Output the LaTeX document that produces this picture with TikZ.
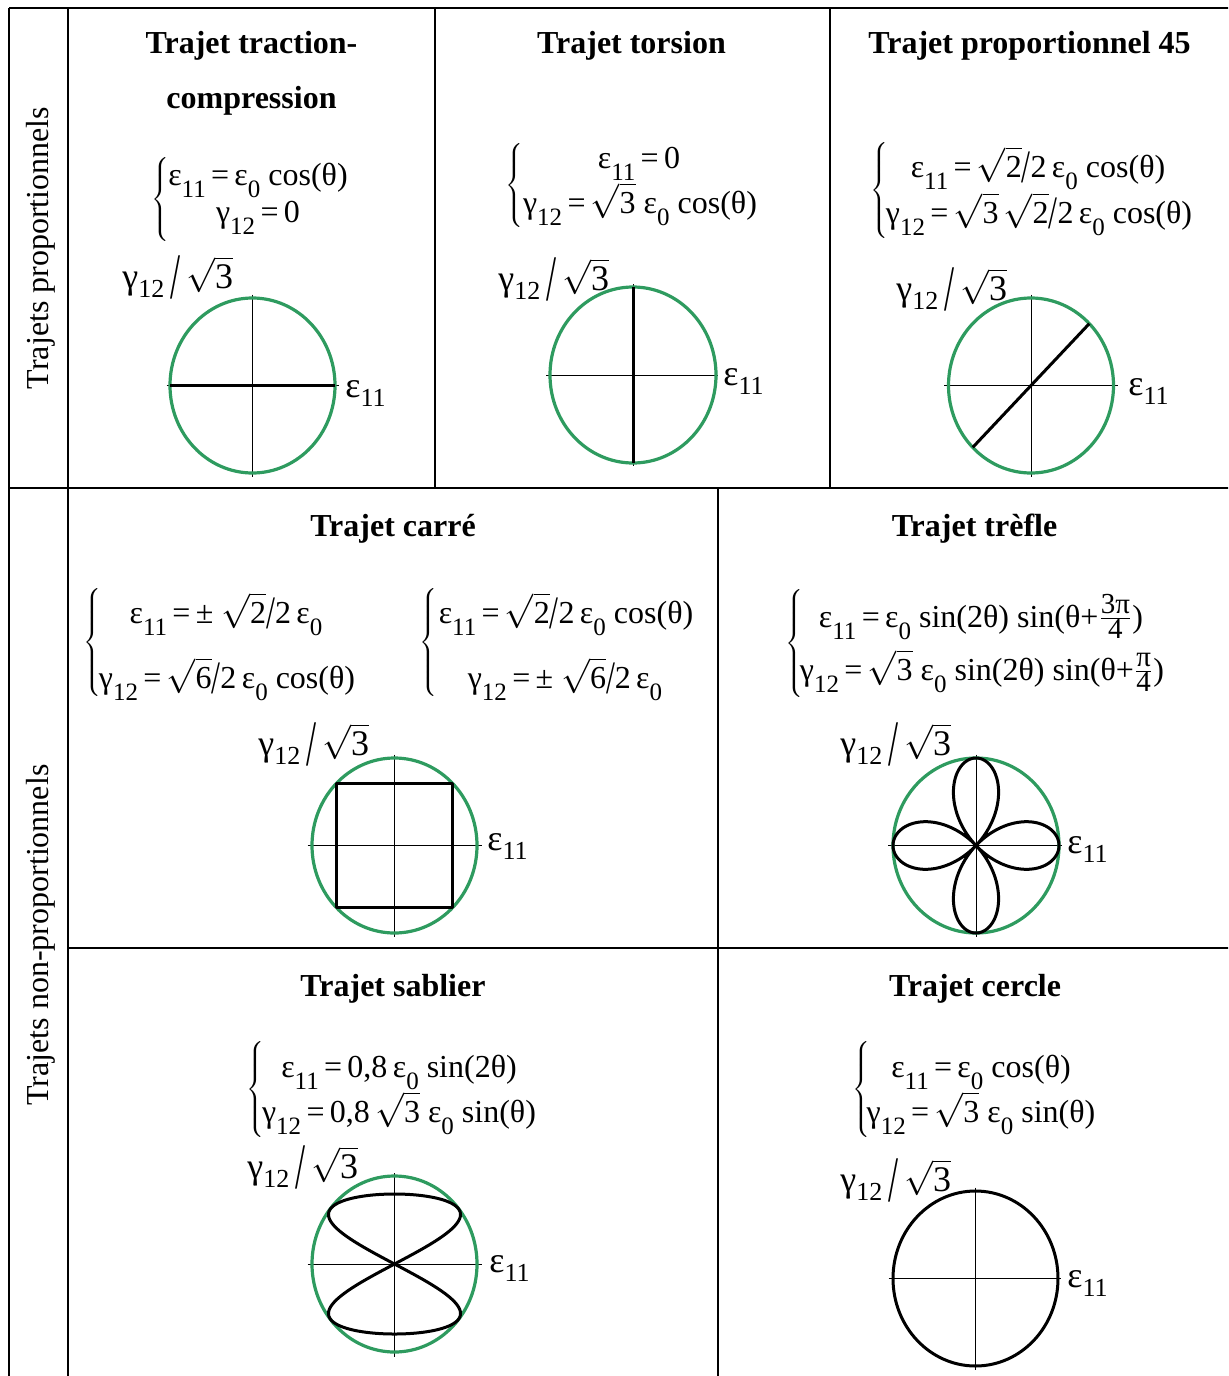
\documentclass[tikz,border=0pt]{standalone}
\usepackage{fontspec}
\setmainfont{Liberation Serif}
\definecolor{pathgreen}{RGB}{46,155,95}
\newcommand\sub[1]{\raisebox{-6pt}{\fontsize{12.5}{12.5}\selectfont #1}}
\newcommand\lsub[1]{\raisebox{-4.5pt}{\fontsize{13}{13}\selectfont #1}}
\newcommand\rt[1]{$\sqrt{\hbox{#1}}$}
\newcommand\tsl{\raisebox{-2.5pt}{\scalebox{1}[1.45]{/}}}
\newcommand\bigsl{\raisebox{-5pt}{\scalebox{1}[1.8]{/}}}
\newcommand\fr[2]{$\frac{\hbox{\fontsize{14.5}{14.5}\selectfont #1}}{\hbox{\fontsize{14.5}{14.5}\selectfont #2}}$}
\newcommand\brc[1]{$\left\{\vcenter{\hbox{\vrule height #1 depth 0pt width 0pt}}\right.$}
\tikzset{
  tablerule/.style={line width=1pt},
  axisline/.style={line width=0.5pt},
  gcirc/.style={draw=pathgreen, line width=1.6pt},
  pathcurve/.style={line width=1.5pt, line join=round},
  ttl/.style={font=\bfseries\fontsize{16}{19}\selectfont, anchor=base, inner sep=0pt},
  eqn/.style={font=\fontsize{16}{19}\selectfont, anchor=base, inner sep=0pt},
  bracenode/.style={font=\fontsize{16}{19}\selectfont, anchor=west, inner sep=0pt},
  lbl/.style={font=\fontsize{18}{20}\selectfont, anchor=base west, inner sep=0pt},
  sidelabel/.style={font=\fontsize{16}{19}\selectfont, rotate=90, anchor=base, inner sep=0pt},
}
\begin{document}
\begin{tikzpicture}[x=0.5pt,y=-0.5pt]
\useasboundingbox (0,0) rectangle (1228,1376);
\clip (0,0) rectangle (1228,1376);
% table rules
\draw[tablerule] (9,7.5) -- (1240,7.5);
\draw[tablerule] (9,7.5) -- (9,1390);
\draw[tablerule] (68,7.5) -- (68,1390);
\draw[tablerule] (9,488) -- (1240,488);
\draw[tablerule] (434.5,7.5) -- (434.5,488);
\draw[tablerule] (829.5,7.5) -- (829.5,488);
\draw[tablerule] (68,948) -- (1240,948);
\draw[tablerule] (718,488) -- (718,1390);
% side labels
\node[sidelabel] (s1) at (48.5,248) {Trajets proportionnels};
\node[sidelabel] (s2) at (48.5,935) {Trajets non-proportionnels};

% ---- cell 1: traction-compression
\node[ttl] (t1a) at (251.5,54) {Trajet traction-};
\node[ttl] (t1b) at (251.5,108) {compression};
\node[bracenode] (b1) at (151,199) {\brc{42pt}};
\node[eqn] (e1a) at (258,185) {ε\sub{11}\,=\,ε\sub{0} cos(θ)};
\node[eqn] (e1b) at (258,222) {γ\sub{12}\,=\,0};
\begin{scope}[shift={(252.5,385.5)}]
  \draw[axisline] (-86,0) -- (86,0);
  \draw[axisline] (0,-91) -- (0,91);
  \draw[gcirc] (0,0) ellipse [x radius=82.5, y radius=87.5];
  \draw[pathcurve] (-82.5,0) -- (82.5,0);
\end{scope}
\node[lbl] (g1) at (122,288) {γ\lsub{12}\,\bigsl\,\rt{3}};
\node[lbl] (x1) at (345,397) {ε\lsub{11}};

% ---- cell 2: torsion
\node[ttl] (t2) at (631.5,54) {Trajet torsion};
\node[bracenode] (b2) at (505,185) {\brc{46pt}};
\node[eqn] (e2a) at (639,168) {ε\sub{11}\,=\,0};
\node[eqn] (e2b) at (640,213) {γ\sub{12}\,=\,\rt{3} ε\sub{0} cos(θ)};
\begin{scope}[shift={(633,375)}]
  \draw[axisline] (-87,0) -- (85,0);
  \draw[axisline] (0,-91) -- (0,91);
  \draw[gcirc] (0,0) ellipse [x radius=83, y radius=88];
  \draw[pathcurve] (0,-88) -- (0,88);
\end{scope}
\node[lbl] (g2) at (498,290) {γ\lsub{12}\,\bigsl\,\rt{3}};
\node[lbl] (x2) at (723,385) {ε\lsub{11}};

% ---- cell 3: proportionnel 45
\node[ttl] (t3) at (1029.5,54) {Trajet proportionnel 45};
\node[bracenode] (b3) at (870,190) {\brc{49pt}};
\node[eqn] (e3a) at (1038,177) {ε\sub{11}\,=\,\rt{2}\tsl2\,ε\sub{0} cos(θ)};
\node[eqn] (e3b) at (1039,223) {γ\sub{12}\,=\,\rt{3}\,\rt{2}\tsl2\,ε\sub{0} cos(θ)};
\begin{scope}[shift={(1031,385.5)}]
  \draw[axisline] (-87,0) -- (87,0);
  \draw[axisline] (0,-91) -- (0,91);
  \draw[gcirc] (0,0) ellipse [x radius=82.5, y radius=87.5];
  \draw[pathcurve] (-58.3,61.9) -- (58.3,-61.9);
\end{scope}
\node[lbl] (g3) at (896,300) {γ\lsub{12}\,\bigsl\,\rt{3}};
\node[lbl] (x3) at (1128,395) {ε\lsub{11}};

% ---- cell 4: carre
\node[ttl] (t4) at (393,536) {Trajet carré};
\node[bracenode] (b4a) at (83,642) {\brc{58pt}};
\node[eqn] (e4a) at (226,623) {ε\sub{11}\,=\,± \rt{2}\tsl2\,ε\sub{0}};
\node[eqn] (e4b) at (227,688) {γ\sub{12}\,=\,\rt{6}\tsl2\,ε\sub{0} cos(θ)};
\node[bracenode] (b4b) at (419,642) {\brc{58pt}};
\node[eqn] (e4c) at (566,623) {ε\sub{11}\,=\,\rt{2}\tsl2\,ε\sub{0} cos(θ)};
\node[eqn] (e4d) at (565,688) {γ\sub{12}\,=\,± \rt{6}\tsl2\,ε\sub{0}};
\begin{scope}[shift={(394.5,845.5)}]
  \draw[axisline] (-87,0) -- (87,0);
  \draw[axisline] (0,-91) -- (0,91);
  \draw[gcirc] (0,0) ellipse [x radius=82.5, y radius=87.5];
  \draw[pathcurve] (-58.3,-61.9) rectangle (58.3,61.9);
\end{scope}
\node[lbl] (g4) at (258,755) {γ\lsub{12}\,\bigsl\,\rt{3}};
\node[lbl] (x4) at (487,850) {ε\lsub{11}};

% ---- cell 5: trefle
\node[ttl] (t5) at (974.5,536) {Trajet trèfle};
\node[bracenode] (b5) at (785,643) {\brc{57pt}};
\node[eqn] (e5a) at (981,627) {ε\sub{11}\,=\,ε\sub{0} sin(2θ) sin(θ+\fr{3π}{4})};
\node[eqn] (e5b) at (982,680) {γ\sub{12}\,=\,\rt{3} ε\sub{0} sin(2θ) sin(θ+\fr{π}{4})};
\begin{scope}[shift={(976,845.5)}]
  \draw[axisline] (-88,0) -- (86,0);
  \draw[axisline] (0,-91) -- (0,91);
  \draw[gcirc] (0,0) ellipse [x radius=83, y radius=87.5];
  \draw[pathcurve] plot[domain=0:360, samples=361, smooth]
    ({83*sin(2*\x)*sin(\x+135)}, {-87.5*sin(2*\x)*sin(\x+45)}) -- cycle;
\end{scope}
\node[lbl] (g5) at (840,755) {γ\lsub{12}\,\bigsl\,\rt{3}};
\node[lbl] (x5) at (1067,853) {ε\lsub{11}};

% ---- cell 6: sablier
\node[ttl] (t6) at (393,996) {Trajet sablier};
\node[bracenode] (b6) at (246,1089) {\brc{47pt}};
\node[eqn] (e6a) at (399,1077) {ε\sub{11}\,=\,0,8\,ε\sub{0} sin(2θ)};
\node[eqn] (e6b) at (399,1122) {γ\sub{12}\,=\,0,8\,\rt{3} ε\sub{0} sin(θ)};
\begin{scope}[shift={(394.5,1264)}]
  \draw[axisline] (-87,0) -- (87,0);
  \draw[axisline] (0,-91) -- (0,93);
  \draw[gcirc] (0,0) ellipse [x radius=82.5, y radius=88];
  \draw[pathcurve] plot[domain=0:360, samples=361, smooth]
    ({66*sin(2*\x)}, {-70*sin(\x)}) -- cycle;
\end{scope}
\node[lbl] (g6) at (247,1178) {γ\lsub{12}\,\bigsl\,\rt{3}};
\node[lbl] (x6) at (489,1272) {ε\lsub{11}};

% ---- cell 7: cercle
\node[ttl] (t7) at (975,996) {Trajet cercle};
\node[bracenode] (b7) at (852,1089) {\brc{47pt}};
\node[eqn] (e7a) at (981,1077) {ε\sub{11}\,=\,ε\sub{0} cos(θ)};
\node[eqn] (e7b) at (981,1122) {γ\sub{12}\,=\,\rt{3} ε\sub{0} sin(θ)};
\begin{scope}[shift={(975.5,1278.5)}]
  \draw[axisline] (-87,0) -- (85,0);
  \draw[axisline] (0,-91) -- (0,91);
  \draw[pathcurve] (0,0) ellipse [x radius=82.5, y radius=87.5];
\end{scope}
\node[lbl] (g7) at (840,1191) {γ\lsub{12}\,\bigsl\,\rt{3}};
\node[lbl] (x7) at (1067,1287) {ε\lsub{11}};
\end{tikzpicture}
\end{document}
